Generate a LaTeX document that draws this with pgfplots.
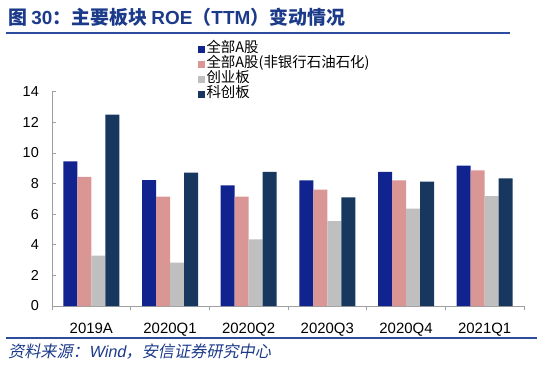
\documentclass[border=0pt]{standalone}
\usepackage{pgfplots}
\pgfplotsset{compat=1.18}
\usepackage{fontspec}
\setmainfont{Liberation Sans}
\newfontfamily\cjk{Noto Sans CJK SC}
\newfontfamily\cjkit[FakeSlant=0.2]{Noto Sans CJK SC}
\newfontfamily\latit[FakeSlant=0.2]{Liberation Sans}
\definecolor{cA}{HTML}{10238F}
\definecolor{cB}{HTML}{D99694}
\definecolor{cC}{HTML}{BFBFBF}
\definecolor{cD}{HTML}{17375E}
\definecolor{tblue}{HTML}{1B3A8A}
\definecolor{lblue}{HTML}{2E4C9E}
\begin{document}
\begin{tikzpicture}
\path[use as bounding box] (0,0) rectangle (550bp,-365bp);
% title
\node[anchor=base west, inner sep=0pt, text=tblue, font=\bfseries\fontsize{19}{22}\selectfont] at (8bp,-24bp)
 {{\cjk 图 }30{\cjk ：主要板块 }ROE{\cjk （}TTM{\cjk ）变动情况}};
\draw[lblue, line width=1.6bp] (6bp,-33bp) -- (510bp,-33bp);
\draw[lblue, line width=1.2bp] (6bp,-338bp) -- (537bp,-338bp);
\node[anchor=base west, inner sep=0pt, text=tblue, font=\fontsize{16.2}{19}\selectfont] at (8bp,-357bp)
 {{\cjkit 资料来源：}{\latit Wind}{\cjkit ，安信证券研究中心}};
\begin{axis}[
  at={(52bp,-306bp)}, anchor=south west,
  scale only axis, width=472bp, height=214.3bp,
  ymin=0, ymax=14, ytick={0,2,...,14},
  xmin=-0.5, xmax=5.5, xtick={0,...,5},
  xticklabels={2019A,2020Q1,2020Q2,2020Q3,2020Q4,2021Q1},
  minor xtick={-0.5,0.5,...,5.5},
  major x tick style={draw=none},
  axis x line*=bottom, axis y line*=left,
  axis line style={draw=gray!75, line width=0.8bp, -},
  every tick/.style={draw=gray!75, line width=0.8bp},
  major tick length=3.5bp, minor tick length=4bp,
  tick align=inside,
  /pgf/number format/assume math mode=true,
  yticklabel style={font=\fontsize{14.5}{16}\selectfont, inner sep=0pt, xshift=-13bp},
  xticklabel style={font=\fontsize{15}{17}\selectfont, inner sep=0pt, yshift=-13.5bp},
  ybar=0pt, bar width=14bp,
  legend cell align=left,
  legend image code/.code={\fill[#1] (0bp,-3.5bp) rectangle (7bp,3.5bp);},
  legend style={at={(rel axis cs:0.309,1.234)}, anchor=north west, draw=none, fill=none,
     font=\cjk\fontsize{14.5}{15}\selectfont, inner sep=0pt, row sep=0pt,
     nodes={inner sep=0pt, inner xsep=1.5bp, text height=10.5bp, text depth=4.5bp}},
]
\addplot[fill=cA, draw=none] coordinates {(0,9.45) (1,8.23) (2,7.88) (3,8.21) (4,8.77) (5,9.17)};
\addplot[fill=cB, draw=none] coordinates {(0,8.43) (1,7.14) (2,7.14) (3,7.60) (4,8.21) (5,8.86)};
\addplot[fill=cC, draw=none] coordinates {(0,3.29) (1,2.83) (2,4.35) (3,5.55) (4,6.36) (5,7.18)};
\addplot[fill=cD, draw=none] coordinates {(0,12.50) (1,8.71) (2,8.77) (3,7.10) (4,8.12) (5,8.34)};
\legend{全部A股,全部A股(非银行石油石化),创业板,科创板}
\end{axis}
\end{tikzpicture}
\end{document}
